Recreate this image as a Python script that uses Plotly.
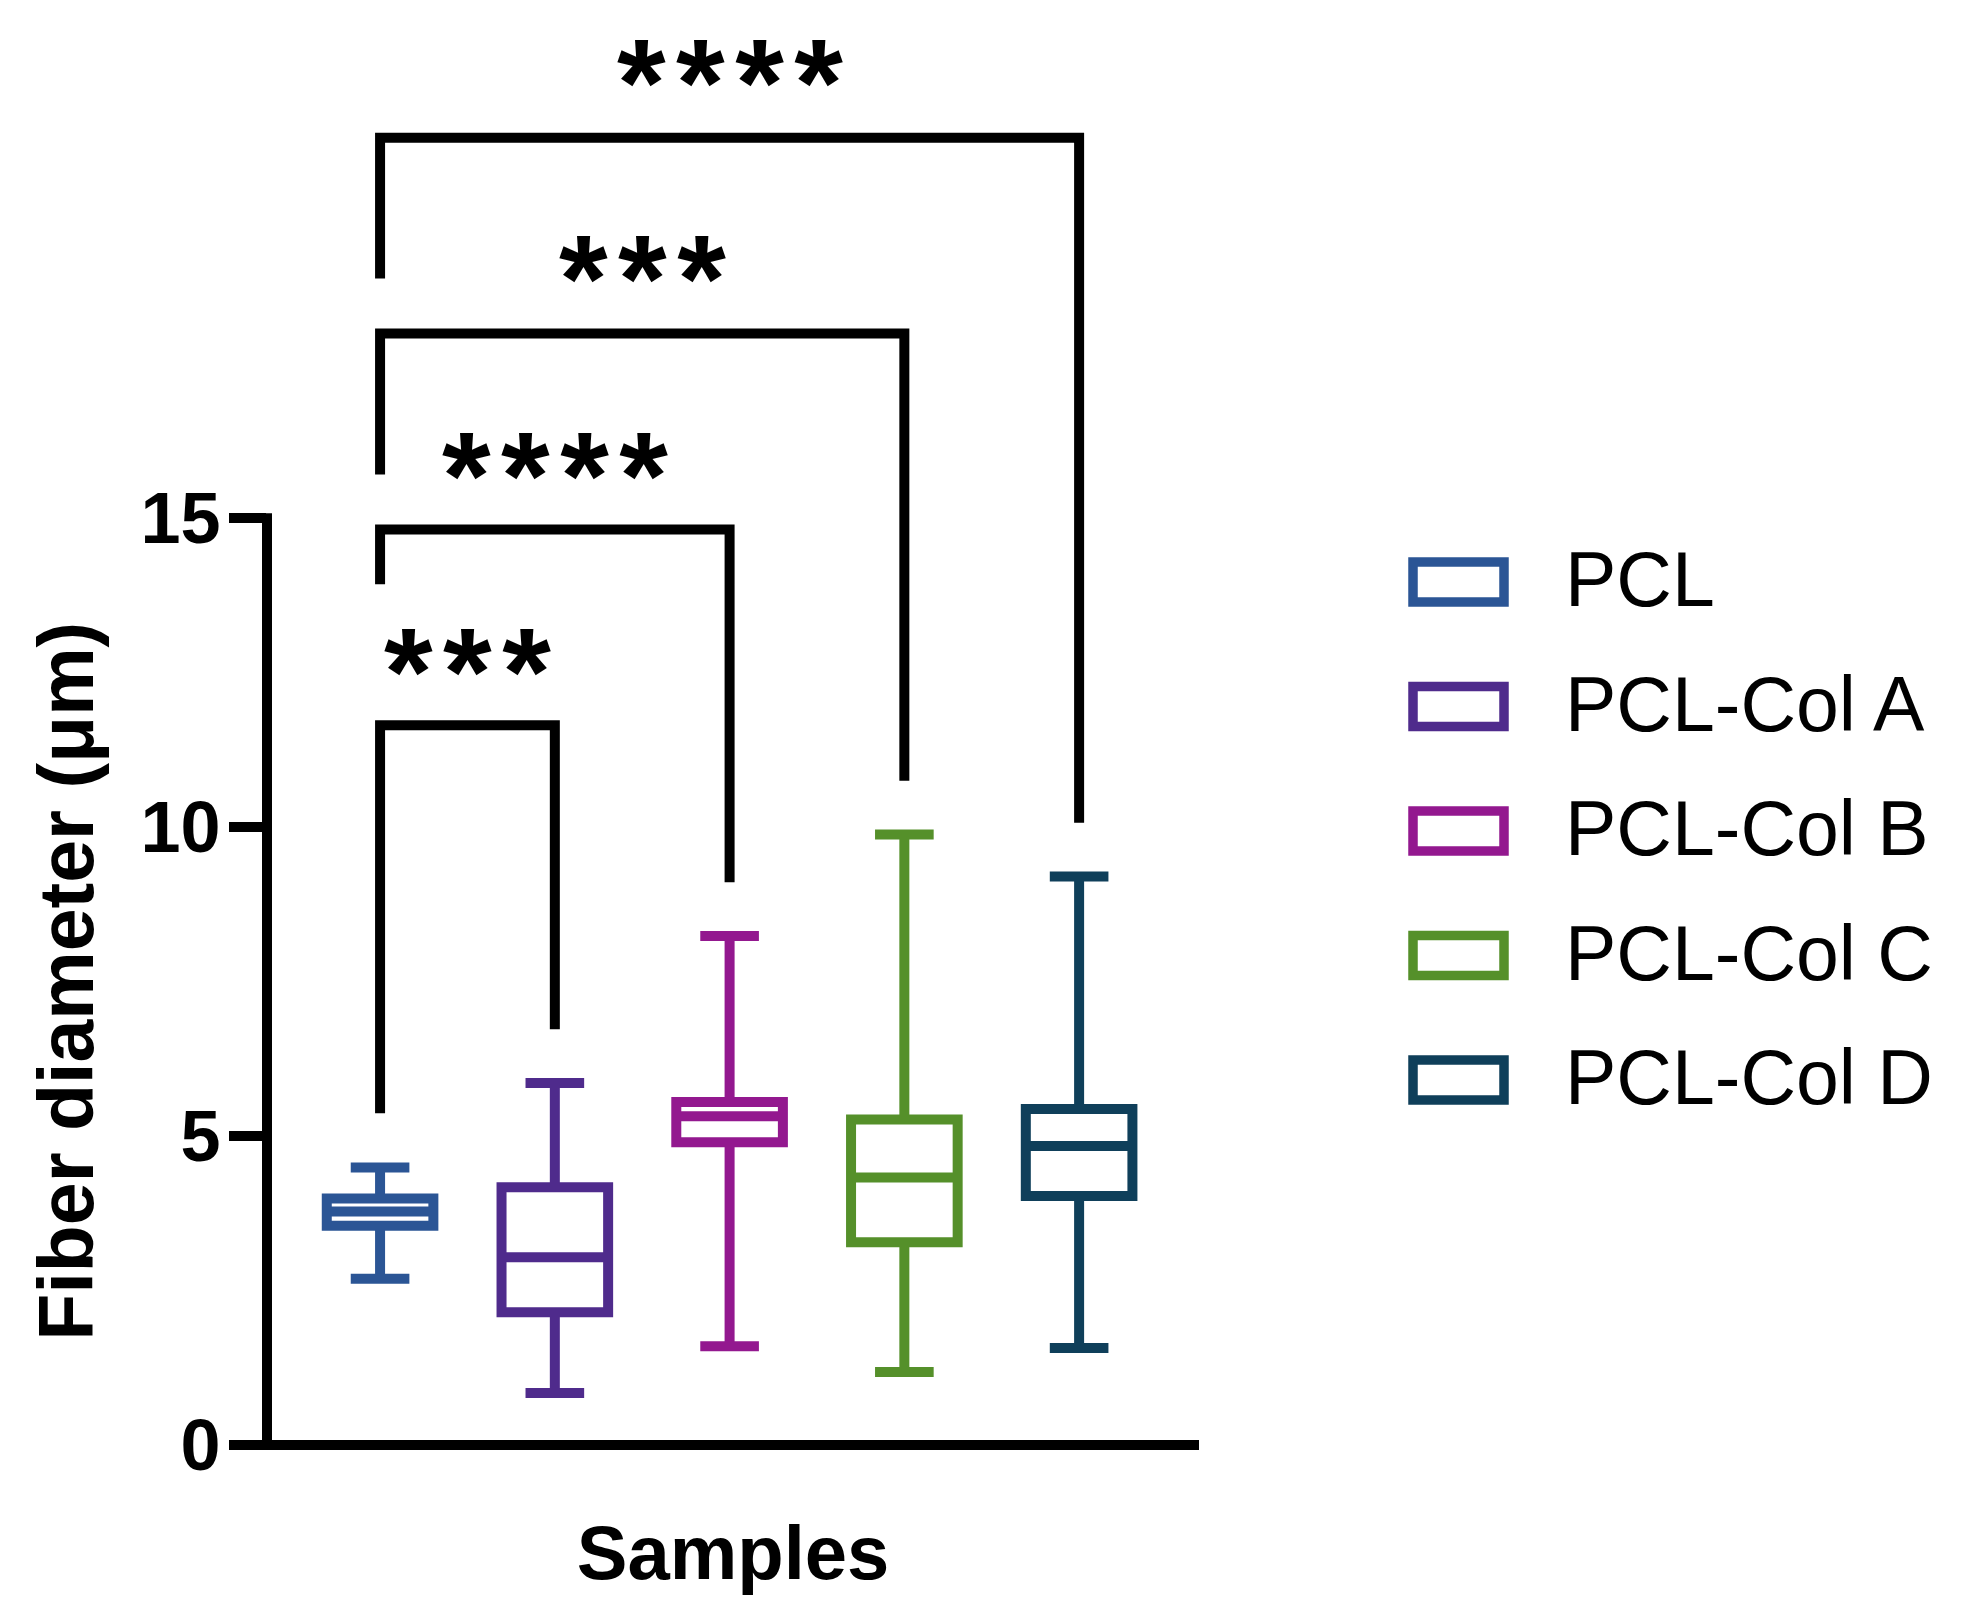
import plotly.graph_objects as go

# ---------------- data ----------------
groups = ["PCL", "PCL-Col A", "PCL-Col B", "PCL-Col C", "PCL-Col D"]
colors = ["#2B5595", "#4F2B8C", "#93188F", "#55902A", "#0F3F5A"]
lower_whisker = [2.69, 0.84, 1.60, 1.18, 1.57]
q1_vals = [3.55, 2.15, 4.90, 3.28, 4.03]
median_vals = [3.78, 3.04, 5.32, 4.33, 4.84]
q3_vals = [3.99, 4.17, 5.55, 5.27, 5.44]
upper_whisker = [4.49, 5.86, 8.24, 9.88, 9.20]

y_ticks = [0, 5, 10, 15]
y_range = [0, 23]

comp_left = ["PCL", "PCL", "PCL", "PCL"]
comp_right = ["PCL-Col A", "PCL-Col B", "PCL-Col C", "PCL-Col D"]
bracket_top = [11.65, 14.82, 17.99, 21.16]
left_leg_end = [5.37, 13.93, 15.71, 18.88]
right_leg_end = [6.73, 9.11, 10.75, 10.07]
sig_labels = ["***", "****", "***", "****"]
sig_label_y = [12.82, 15.99, 19.17, 22.35]

# ---------------- layout constants ----------------
W, H = 1968, 1619
OFF = 8  # page body margin of the html page
M_L, M_T = 267 - OFF, 24 - OFF
PW, PH = 932, 1421
M_R = W - M_L - PW
M_B = H - M_T - PH
BOTTOM = M_T + PH
LW = 10
FONT = "Liberation Sans, Arial, sans-serif"


def px_x(px):
    return (px - OFF - M_L) / PW


def px_y(py):
    return (BOTTOM - (py - OFF)) / PH


fig = go.Figure()

for g, c, lo, a, m, b, hi in zip(groups, colors, lower_whisker, q1_vals,
                                 median_vals, q3_vals, upper_whisker):
    fig.add_trace(go.Box(
        x=[g], q1=[a], median=[m], q3=[b], lowerfence=[lo], upperfence=[hi],
        name=g, orientation="v", fillcolor="white",
        line=dict(color=c, width=LW), width=0.61, whiskerwidth=0.55,
        boxpoints=False, showlegend=False, hoverinfo="skip",
    ))

# significance brackets
for a, b, top, le, re in zip(comp_left, comp_right, bracket_top,
                             left_leg_end, right_leg_end):
    fig.add_trace(go.Scatter(
        x=[a, a, b, b], y=[le, top, top, re], mode="lines",
        line=dict(color="black", width=LW), showlegend=False,
        hoverinfo="skip",
    ))

STAR_SIZE = 125
for a, b, lab, ly in zip(comp_left, comp_right, sig_labels, sig_label_y):
    xc = (groups.index(a) + groups.index(b)) / 2
    fig.add_annotation(
        x=xc, y=ly, xref="x", yref="y", text="\u200a".join(lab),
        showarrow=False, xanchor="center", yanchor="middle",
        yshift=-0.21 * STAR_SIZE + 8,
        font=dict(family=FONT, size=STAR_SIZE, color="black", weight="bold"),
    )

# axis lines (drawn so their centres sit on the zero / tick values)
half_w = LW / 2
fig.add_shape(type="line", xref="paper", yref="paper",
              x0=-half_w / PW, x1=1, y0=0, y1=0,
              line=dict(color="black", width=LW))
fig.add_shape(type="line", xref="paper", yref="paper",
              x0=0, x1=0, y0=-half_w / PH,
              y1=(y_ticks[-1] - y_range[0]) / (y_range[1] - y_range[0]) + half_w / PH,
              line=dict(color="black", width=LW))

# y-axis title, centred on the drawn axis line
fig.add_annotation(
    x=px_x(66), y=(y_ticks[0] + y_ticks[-1]) / 2, xref="paper", yref="y",
    text="Fiber diameter (μm)", textangle=-90, showarrow=False,
    xanchor="center", yanchor="middle",
    font=dict(family=FONT, size=77, color="black", weight="bold"),
)

# custom legend
LEG_X0, LEG_X1 = 1413, 1504
LEG_Y0, LEG_DY, LEG_H = 582, 124.5, 40
LEG_TEXT_X = 1563
for i, (g, c) in enumerate(zip(groups, colors)):
    yc = LEG_Y0 + i * LEG_DY
    fig.add_shape(type="rect", xref="paper", yref="paper",
                  x0=px_x(LEG_X0), x1=px_x(LEG_X1),
                  y0=px_y(yc - LEG_H / 2), y1=px_y(yc + LEG_H / 2),
                  line=dict(color=c, width=9.5), fillcolor="white")
    fig.add_annotation(
        x=px_x(LEG_TEXT_X), y=px_y(yc), xref="paper", yref="paper",
        text=g, showarrow=False, xanchor="left", yanchor="middle",
        yshift=3,
        font=dict(family=FONT, size=77, color="black"),
    )

fig.update_layout(
    width=W, height=H,
    margin=dict(l=M_L, r=M_R, t=M_T, b=M_B, autoexpand=False),
    paper_bgcolor="white", plot_bgcolor="white",
    boxmode="overlay", showlegend=False,
    font=dict(family=FONT, color="black"),
    xaxis=dict(
        type="category", categoryorder="array", categoryarray=groups,
        range=[-0.647, 4.686], showline=False, showgrid=False,
        zeroline=False, showticklabels=False, ticks="",
        title=dict(text="Samples", standoff=80,
                   font=dict(family=FONT, size=76, weight="bold")),
    ),
    yaxis=dict(
        range=y_range, tickvals=y_ticks, ticks="outside", ticklen=37,
        tickwidth=LW, tickcolor="black", showline=False, showgrid=False,
        zeroline=False, ticklabelstandoff=-6,
        tickfont=dict(family=FONT, size=72, weight="bold"),
    ),
)

fig.write_html("out.html")
